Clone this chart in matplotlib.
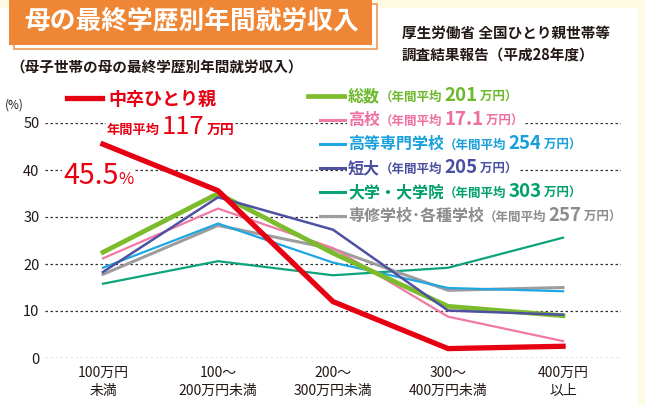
import matplotlib
matplotlib.use("Agg")
import matplotlib.pyplot as plt
from matplotlib.patches import Rectangle
from matplotlib.lines import Line2D

plt.rcParams['font.family'] = ['Noto Sans CJK JP', 'DejaVu Sans']

# data
categories = ['100万円\n未満', '100～\n200万円未満', '200～\n300万円未満', '300～\n400万円未満', '400万円\n以上']
chusotsu = [45.5, 35.6, 12.0, 2.0, 2.5]
series_names = ['大学・大学院', '専修学校・各種学校', '高等専門学校', '高校', '総数', '短大']
series_vals = [
    [15.8, 20.6, 17.6, 19.2, 25.6],
    [17.8, 28.2, 23.2, 14.4, 15.0],
    [19.2, 28.6, 20.3, 14.9, 14.2],
    [21.2, 31.8, 23.4, 8.8, 3.6],
    [22.5, 35.0, 22.3, 11.0, 9.0],
    [18.3, 34.2, 27.3, 10.1, 9.2],
]
series_colors = ['#0fa37b', '#9d9d9d', '#1ea7e1', '#ef7aa6', '#7cbb2b', '#4d51a0']
series_lw = [1.6, 2.2, 1.6, 1.6, 3.4, 1.8]

legend_names = ['総数', '高校', '高等専門学校', '短大', '大学・大学院', '専修学校･各種学校']
legend_avgs = ['201', '17.1', '254', '205', '303', '257']
legend_colors = ['#6cb92b', '#ef6fa0', '#18a0dc', '#4b4f9f', '#00a06a', '#8c8c8c']
legend_line_colors = ['#7cbb2b', '#ef7aa6', '#1ea7e1', '#4d51a0', '#0fa37b', '#9d9d9d']
red = '#e60012'
dark = '#231815'

W, H = 645, 405
fig = plt.figure(figsize=(W / 100, H / 100), dpi=100, facecolor='#fffbe3')


def fx(px):
    return px / W


def fy(py):
    return 1 - py / H


# white panel + title box
fig.add_artist(Rectangle((fx(0), fy(405)), fx(638), 397 / H, transform=fig.transFigure,
                         fc='white', ec='none', zorder=-5))
fig.add_artist(Rectangle((fx(14), fy(49)), fx(363), 45 / H, transform=fig.transFigure,
                         fc='white', ec='#f0a060', lw=1.3, zorder=-4))
fig.add_artist(Rectangle((fx(9), fy(45)), fx(363), 46 / H, transform=fig.transFigure,
                         fc='#ef8636', ec='none', zorder=-3))
fig.text(fx(192), fy(21), '母の最終学歴別年間就労収入', color='white', fontsize=18.5,
         fontweight='bold', ha='center', va='center')

fig.text(fx(10), fy(68), '（母子世帯の母の最終学歴別年間就労収入）', color=dark, fontsize=10.5,
         fontweight='bold', ha='left', va='center')
fig.text(fx(402), fy(33), '厚生労働省 全国ひとり親世帯等', color=dark, fontsize=10.5,
         fontweight='bold', ha='left', va='center')
fig.text(fx(402), fy(55), '調査結果報告（平成28年度）', color=dark, fontsize=10.5,
         fontweight='bold', ha='left', va='center')

# chart
ax = fig.add_axes([fx(45), fy(358), fx(576), 235 / H])
ax.patch.set_visible(False)
x = list(range(len(categories)))
ax.set_xlim(-0.504, 4.504)
ax.set_ylim(0, 50)
ax.hlines([0, 10, 20, 30, 40, 50], -0.504, 4.504, colors='#333333', lw=0.9,
          linestyles=(0, (2, 2)), zorder=0)
for vals, c, lw in zip(series_vals, series_colors, series_lw):
    ax.plot(x, vals, color=c, lw=lw, solid_joinstyle='miter', zorder=2, clip_on=False)
ax.plot(x, chusotsu, color=red, lw=3.8, solid_joinstyle='miter', zorder=3, clip_on=False)
for s in ax.spines.values():
    s.set_visible(False)
ax.set_yticks([0, 10, 20, 30, 40, 50])
ax.set_xticks(x)
ax.set_xticklabels(categories, fontsize=10, color=dark, linespacing=1.35)
ax.tick_params(axis='y', length=0, pad=4, labelsize=10.5, labelcolor=dark)
ax.tick_params(axis='x', length=0, pad=6)
fig.text(fx(5), fy(105), '(%)', fontsize=8.5, color=dark, ha='left', va='center')

renderer = fig.canvas.get_renderer()


def put_runs(x0, base, parts):
    # parts: (text, size, color[, weight]) placed left to right on one baseline
    xp = x0
    for p in parts:
        s, size, color = p[:3]
        weight = p[3] if len(p) > 3 else 'bold'
        t = fig.text(fx(xp), fy(base), s, fontsize=size, color=color, fontweight=weight,
                     ha='left', va='baseline', zorder=5,
                     bbox=dict(fc='white', ec='none', pad=0.6))
        bb = t.get_window_extent(renderer)
        xp = bb.x1


# red legend
fig.add_artist(Line2D([fx(67), fx(102)], [fy(98), fy(98)], color=red, lw=3.8,
                      transform=fig.transFigure))
put_runs(108, 105, [('中卒ひとり親', 13, red)])
put_runs(107, 134, [('年間平均', 9.5, red), (' ', 7, red), ('117', 18.5, red, 'normal'),
                    (' ', 6, red), ('万円', 10, red)])
put_runs(63, 184, [('45.5', 20.5, red, 'normal'), ('%', 12, red, 'normal')])

# legend rows
for i, (nm, av, c, lc) in enumerate(zip(legend_names, legend_avgs, legend_colors, legend_line_colors)):
    yc = 96 + i * 24
    lw = 3.4 if i == 0 else 2.2
    x_start = 308 if i == 0 else 320
    fig.add_artist(Line2D([fx(x_start), fx(345)], [fy(yc), fy(yc)], color=lc, lw=lw,
                          transform=fig.transFigure, zorder=5))
    put_runs(348, yc + 5, [(nm, 11.5, c), ('（年間平均', 9, c), (' ', 5, c),
                           (av, 13.5, c), (' 万円）', 9, c)])

fig.savefig('out.png', dpi=100, facecolor=fig.get_facecolor())
